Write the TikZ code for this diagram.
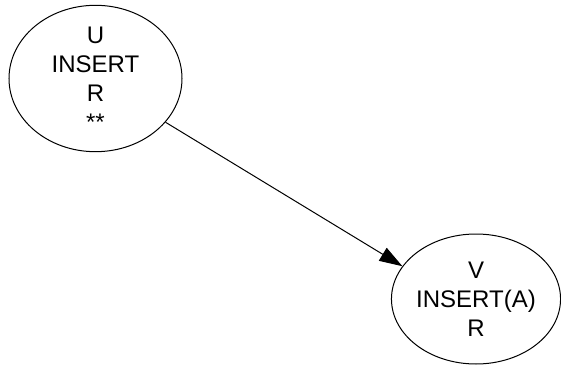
\documentclass[tikz,border=0pt]{standalone}
\usepackage{fontspec}
\setmainfont{Liberation Sans}
\usetikzlibrary{shapes.geometric,arrows.meta}
\tikzstyle{state}=[ellipse, draw=black, line width=1pt, inner sep=0pt, align=center, font=\fontsize{24}{29}\selectfont, anchor = center]
\tikzstyle{edge}=[line width=1pt, -{Triangle[length=23pt,width=15pt]}]

\begin{document}
\begin{tikzpicture}[x=1pt, y=1pt]
	\useasboundingbox (0,0) rectangle (561,-366);

	\node[state, minimum width=173pt, minimum height=133pt](u) at (95.5,-78.5){U\\INSERT\\R\\**};
	\node[state, minimum width=168pt, minimum height=130pt](v) at (476,-299){V\\INSERT(A)\\R};

	\draw[edge] (u.-32) -- (v.156);
\end{tikzpicture}
\end{document}
